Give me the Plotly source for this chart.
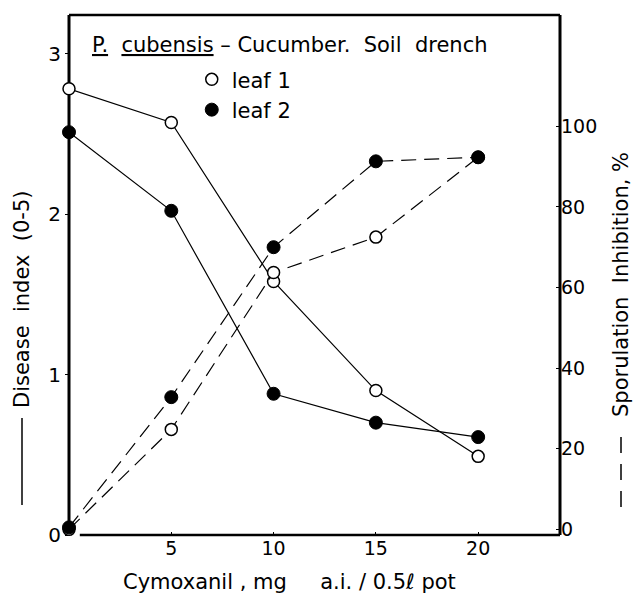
import plotly.graph_objects as go

dose = [0, 5, 10, 15, 20]
disease_leaf1 = [2.78, 2.57, 1.58, 0.90, 0.49]
disease_leaf2 = [2.51, 2.02, 0.88, 0.70, 0.61]
sporulation_leaf1 = [0, 24.8, 63.7, 72.5, 92.3]
sporulation_leaf2 = [0.5, 32.8, 70.0, 91.3, 92.3]
x_ticks = [5, 10, 15, 20]
left_ticks = [0, 1, 2, 3]
right_ticks = [0, 20, 40, 60, 80, 100]

FONT = "DejaVu Sans"
L, T, W, H = 69, 15, 491, 520


def px(xp):
    return (xp - L) / W


def py(yp):
    return (T + H - yp) / H


fig = go.Figure()

open_marker = dict(symbol="circle", size=12, color="white", line=dict(color="black", width=1.5))
filled_marker = dict(symbol="circle", size=13, color="black", line=dict(color="black", width=1))
solid = dict(color="black", width=1.2)
dashed = dict(color="black", width=1.2, dash="15px,8px")

fig.add_trace(go.Scatter(x=dose, y=disease_leaf1, mode="lines", line=solid, showlegend=False, cliponaxis=False))
fig.add_trace(go.Scatter(x=dose, y=disease_leaf2, mode="lines", line=solid, showlegend=False, cliponaxis=False))
fig.add_trace(go.Scatter(x=dose, y=sporulation_leaf1, mode="lines", line=dashed, yaxis="y2", showlegend=False, cliponaxis=False))
fig.add_trace(go.Scatter(x=dose, y=sporulation_leaf2, mode="lines", line=dashed, yaxis="y2", showlegend=False, cliponaxis=False))
fig.add_trace(go.Scatter(x=dose, y=sporulation_leaf1, mode="markers", marker=open_marker, yaxis="y2", showlegend=False, cliponaxis=False))
fig.add_trace(go.Scatter(x=dose, y=sporulation_leaf2, mode="markers", marker=filled_marker, yaxis="y2", showlegend=False, cliponaxis=False))
fig.add_trace(go.Scatter(x=dose, y=disease_leaf1, mode="markers", marker=open_marker, name="leaf 1", cliponaxis=False))
fig.add_trace(go.Scatter(x=dose, y=disease_leaf2, mode="markers", marker=filled_marker, name="leaf 2", cliponaxis=False))

# frame
fig.add_shape(type="line", xref="paper", yref="paper", x0=0, x1=0, y0=0.01, y1=1, line=dict(color="black", width=3), layer="below")
fig.add_shape(type="line", xref="paper", yref="paper", x0=0, x1=1, y0=1, y1=1, line=dict(color="black", width=2.5), layer="below")
fig.add_shape(type="line", xref="paper", yref="paper", x0=1, x1=1, y0=0, y1=1, line=dict(color="black", width=3), layer="below")
fig.add_shape(type="line", xref="paper", yref="paper", x0=0.022, x1=1, y0=0, y1=0, line=dict(color="black", width=2.5), layer="below")
# axis-title line keys
fig.add_shape(type="line", xref="paper", yref="paper", x0=px(22), x1=px(22), y0=py(505), y1=py(418), line=dict(color="black", width=1.5))
fig.add_shape(type="line", xref="paper", yref="paper", x0=px(621), x1=px(621), y0=py(507), y1=py(427), line=dict(color="black", width=1.5, dash="16px,11px"))

fig.update_layout(
    width=638, height=599,
    margin=dict(l=L, r=638 - L - W, t=T, b=599 - T - H),
    paper_bgcolor="white", plot_bgcolor="white",
    font=dict(family=FONT, color="black", size=20),
    xaxis=dict(range=[0, 24], tickvals=x_ticks, showgrid=False, zeroline=False, showline=False,
               ticks="inside", ticklen=3, tickcolor="black", tickfont=dict(size=19), layer="below traces"),
    yaxis=dict(range=[0, 3.24], tickvals=left_ticks, showgrid=False, zeroline=False, showline=False,
               ticks="outside", ticklen=3, tickcolor="black", tickfont=dict(size=20), layer="below traces"),
    yaxis2=dict(range=[-1.4, 127.6], tickvals=right_ticks, overlaying="y", side="right", showgrid=False,
                zeroline=False, showline=False, ticks="inside", ticklen=4, tickcolor="black",
                tickfont=dict(size=19), layer="below traces"),
    legend=dict(x=0.25, y=0.915, xanchor="left", yanchor="top", bgcolor="rgba(0,0,0,0)",
                font=dict(size=21), tracegroupgap=0, itemwidth=30),
    annotations=[
        dict(text="<u>P.</u>  <u>cubensis</u> – Cucumber.  Soil  drench", xref="paper", yref="paper",
             x=px(90), y=py(45), xanchor="left", yanchor="middle", showarrow=False, font=dict(size=21)),
        dict(text="Disease  index  (0-5)", xref="paper", yref="paper", x=px(22),
             y=py(300), textangle=-90, xanchor="center", yanchor="middle", showarrow=False, font=dict(size=21)),
        dict(text="Sporulation  Inhibition, %", xref="paper", yref="paper", x=px(621),
             y=py(285), textangle=-90, xanchor="center", yanchor="middle", showarrow=False, font=dict(size=21)),
        dict(text="Cymoxanil , mg\u00a0\u00a0\u00a0\u00a0\u00a0a.i. / 0.5ℓ pot", xref="paper", yref="paper",
             x=px(289), y=py(582), xanchor="center", yanchor="middle", showarrow=False, font=dict(size=21)),
    ],
)

fig.write_html("out.html")
